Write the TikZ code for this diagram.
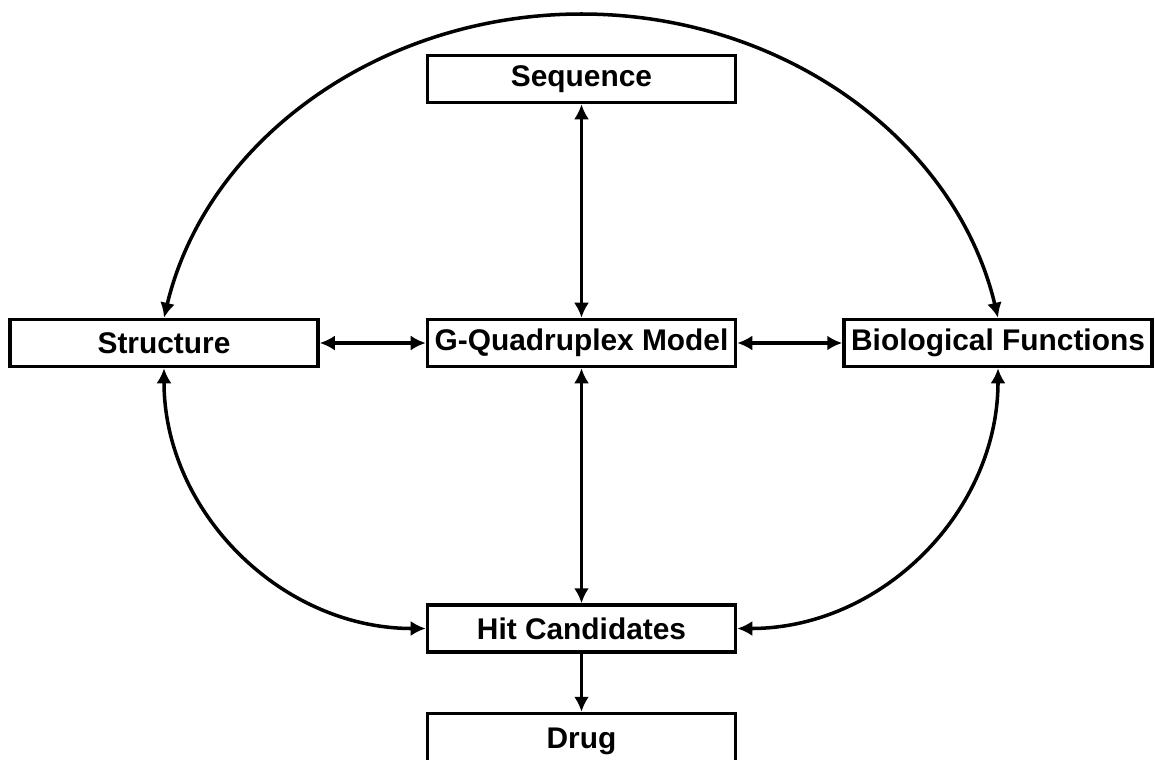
\documentclass[tikz,border=0pt]{standalone}
\usepackage{fontspec}
\setmainfont{Liberation Sans}
\usetikzlibrary{arrows.meta, positioning}

\begin{document}
\begin{tikzpicture}[
    blk/.style={
        draw=black, line width=2pt, minimum width=6.16cm, minimum height=0.94cm,
        align=center, font=\fontsize{17}{19}\selectfont\bfseries, inner xsep=4pt
    },
    arr/.style={-{Latex[length=3mm, width=3mm]}, line width=2pt},
    biarr/.style={{Latex[length=3mm, width=3mm]}-{Latex[length=3mm, width=3mm]}, line width=2pt}
]
\useasboundingbox (0,0) rectangle (23.1,-15.18);

% === Boxes ===
\node[blk] (seq) at (11.63, -1.58) {Sequence};
\node[blk] (str) at (3.28, -6.86) {Structure};
\node[blk] (gq) at (11.63, -6.86) {G-Quadruplex Model};
\node[blk] (bio) at (19.96, -6.86) {Biological Functions};
\node[blk] (hit) at (11.63, -12.57) {Hit Candidates};
\node[blk, minimum height=1.1cm, below=1.16cm of hit] (drug) {Drug};

% === Straight links ===
\draw[biarr] (seq.south) -- (gq.north);
\draw[biarr] (str.east) -- (gq.west);
\draw[biarr] (gq.east) -- (bio.west);
\draw[biarr] (gq.south) -- (hit.north);
\draw[arr] (hit.south) -- (drug.north);

% === Outer arcs ===
\coordinate (apex) at (11.63, -0.28);
\draw[biarr] (str.north) .. controls +(0.85,3.56) and +(-4.03,0) .. (apex)
    .. controls +(4.03,0) and +(-0.85,3.56) .. (bio.north);
\draw[biarr] (str.south) .. controls +(0,-2.87) and +(-2.89,0) .. (hit.west);
\draw[biarr] (bio.south) .. controls +(0,-2.87) and +(2.89,0) .. (hit.east);

\end{tikzpicture}
\end{document}
